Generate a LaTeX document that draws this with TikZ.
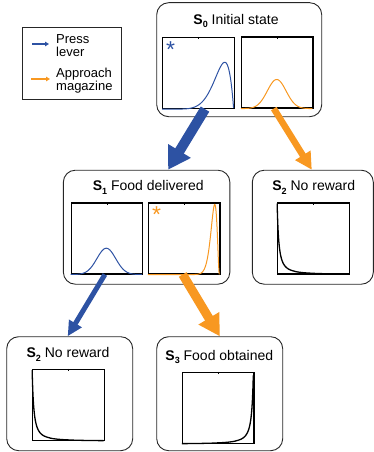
\documentclass[tikz,border=0pt]{standalone}
\usepackage{fontspec}
\setmainfont{Liberation Sans}
\usetikzlibrary{arrows.meta,calc}
\definecolor{pblue}{RGB}{45,82,163}
\definecolor{porange}{RGB}{248,152,33}
\newcommand\ssub[1]{\raisebox{-0.45ex}{\fontsize{9}{9}\selectfont\bfseries #1}}
\begin{document}
\begin{tikzpicture}[x=1pt,y=-1pt,
 statebox/.style={draw=black!85,line width=0.9pt,rounded corners=12pt,inner sep=0pt},
 plotbox/.style={draw=black,line width=1.2pt,minimum width=71.5pt,minimum height=71pt,inner sep=0pt},
 title/.style={font=\fontsize{14}{14}\selectfont,inner sep=0pt},
 legtext/.style={font=\fontsize{13}{13}\selectfont,align=left,anchor=west,inner sep=0pt},
 star/.style={font=\fontsize{23}{23}\selectfont,inner sep=0pt,anchor=north},
 curve/.style={line width=1pt},
 dcurve/.style={line width=1.3pt,black},
 tick/.style={line width=0.6pt},
]
\useasboundingbox (0,0) rectangle (374,452);
% legend
\node[draw=black!85,line width=0.9pt,minimum width=99pt,minimum height=72pt,inner sep=0pt] (leg) at (71.5,63) {};
\coordinate (lb1) at (32,44); \coordinate (lb2) at (49,44);
\coordinate (lo1) at (31,79); \coordinate (lo2) at (50,79);
\draw[pblue,line width=1.6pt,-{Triangle[length=4pt,width=4.5pt]}] (lb1) -- (lb2);
\draw[porange,line width=1.6pt,-{Triangle[length=4pt,width=4.5pt]}] (lo1) -- (lo2);
\node[legtext] (lt1) at (56,45.5) {Press\\lever};
\node[legtext] (lt2) at (56,80.5) {Approach\\magazine};

% state boxes
\node[statebox,minimum width=165pt,minimum height=114pt] (s0) at (239.2,59.7) {};
\node[statebox,minimum width=166.5pt,minimum height=114pt] (s1) at (146.6,227.2) {};
\node[statebox,minimum width=121pt,minimum height=114pt] (s2r) at (312.8,227.2) {};
\node[statebox,minimum width=126pt,minimum height=114pt] (s2b) at (69.7,393.7) {};
\node[statebox,minimum width=126pt,minimum height=114pt] (s3) at (219.7,393.7) {};

% titles
\node[title] (t0) at (236,21) {\textbf{S}\ssub{0} Initial state};
\node[title] (t1) at (148.3,187.3) {\textbf{S}\ssub{1} Food delivered};
\node[title] (t2r) at (313.8,187.3) {\textbf{S}\ssub{2} No reward};
\node[title] (t2b) at (68,354.3) {\textbf{S}\ssub{2} No reward};
\node[title] (t3) at (219.3,356.7) {\textbf{S}\ssub{3} Food obtained};

% plots
\node[plotbox] (p01) at (198.5,73) {};
\node[plotbox] (p02) at (277.3,72.5) {};
\node[plotbox] (p11) at (106.9,238.4) {};
\node[plotbox] (p12) at (184.2,238.4) {};
\node[plotbox] (p2r) at (313.5,238.4) {};
\node[plotbox] (p2b) at (68.5,405) {};
\node[plotbox] (p3) at (218.2,408) {};
\foreach \p in {p01,p02,p11,p12,p2r,p2b,p3}{\draw[tick] (\p.north) -- ++(0,2.5);}

% curves
\begin{scope}[shift={(p01.south west)},x=71.5pt,y=71pt]
 \draw[curve,pblue] plot[domain=0:1,samples=120,smooth] (\x,{0.66*(\x/0.875)^7*((1-\x)/0.125)});
\end{scope}
\begin{scope}[shift={(p02.south west)},x=71.5pt,y=71pt]
 \draw[curve,porange] plot[domain=0:1,samples=100,smooth] (\x,{0.41*exp(-29*(\x-0.5)^2)});
\end{scope}
\begin{scope}[shift={(p11.south west)},x=71.5pt,y=71pt]
 \draw[curve,pblue] plot[domain=0:1,samples=100,smooth] (\x,{0.37*exp(-29*(\x-0.5)^2)});
\end{scope}
\begin{scope}[shift={(p12.south west)},x=71.5pt,y=71pt]
 \draw[curve,porange] plot[domain=0:1,samples=200,smooth] (\x,{0.99*(\x/0.9355)^29*((1-\x)/0.0645)^2});
\end{scope}
\begin{scope}[shift={(p2r.south west)},x=71.5pt,y=71pt]
 \draw[dcurve] plot[domain=0:1,samples=250] (\x,{(0.035/(\x+0.035))^1.5});
\end{scope}
\begin{scope}[shift={(p2b.south west)},x=71.5pt,y=71pt]
 \draw[dcurve] plot[domain=0:1,samples=250] (\x,{(0.035/(\x+0.035))^1.5});
\end{scope}
\begin{scope}[shift={(p3.south west)},x=71.5pt,y=71pt]
 \draw[dcurve] plot[domain=0:1,samples=250] (\x,{(0.035/(1.035-\x))^1.5});
\end{scope}

% asterisks
\node[star,text=pblue] (a0) at (170.7,41.2) {*};
\node[star,text=porange] (a1) at (156.7,206.8) {*};

% transitions
\draw[pblue,line width=10pt,-{Triangle[length=22pt,width=25pt]}] ([xshift=6.5pt]p01.south) -- ([xshift=21.5pt]s1.north);
\draw[porange,line width=6.5pt,-{Triangle[length=17pt,width=17pt]}] ([xshift=-3.5pt]p02.south) -- ([xshift=-1pt]s2r.north);
\draw[pblue,line width=5pt,-{Triangle[length=15pt,width=14pt]}] ([xshift=-2pt]p11.south) -- ([xshift=-2pt]s2b.north);
\draw[porange,line width=9pt,-{Triangle[length=21pt,width=23pt]}] ([xshift=-1.5pt]p12.south) -- ([xshift=0pt]s3.north);
\end{tikzpicture}
\end{document}
